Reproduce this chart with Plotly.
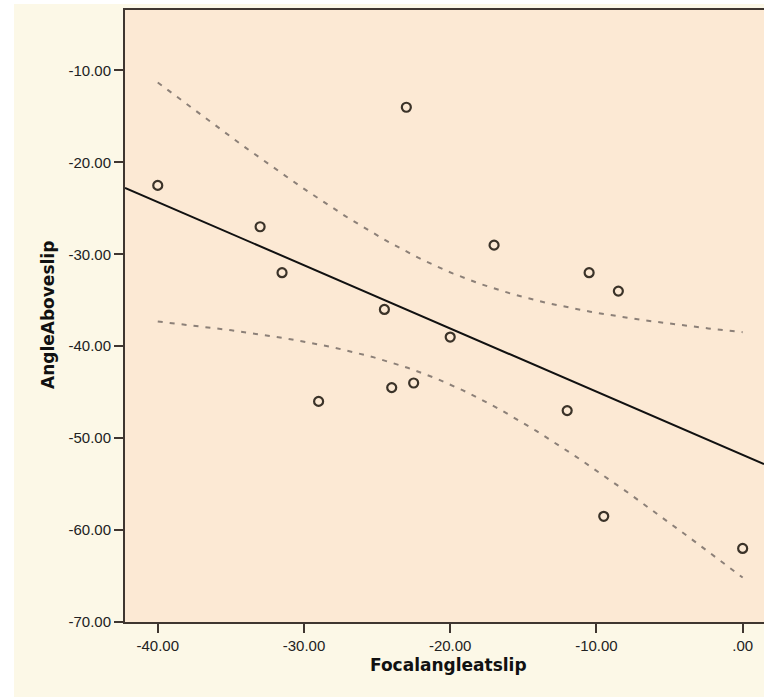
import numpy as np
import plotly.graph_objects as go

# Data
focal_angle = [-40.0, -33.0, -31.5, -23.0, -29.0, -24.5, -24.0, -22.5, -20.0, -17.0, -10.5, -8.5, -12.0, -9.5, 0.0]
angle_above = [-22.5, -27.0, -32.0, -14.0, -46.0, -36.0, -44.5, -44.0, -39.0, -29.0, -32.0, -34.0, -47.0, -58.5, -62.0]

x_tickvals = [-40, -30, -20, -10, 0]
x_ticktext = ["-40.00", "-30.00", "-20.00", "-10.00", ".00"]
y_tickvals = [-10, -20, -30, -40, -50, -60, -70]
y_ticktext = ["-10.00", "-20.00", "-30.00", "-40.00", "-50.00", "-60.00", "-70.00"]

x_range = [-42.24, 1.46]
y_range = [-70.0, -3.42]
t_crit = 2.160  # t(0.975, df=13)

x = np.array(focal_angle)
y = np.array(angle_above)
n = len(x)
slope, intercept = np.polyfit(x, y, 1)
resid = y - (slope * x + intercept)
s = np.sqrt(np.sum(resid ** 2) / (n - 2))
sxx = np.sum((x - x.mean()) ** 2)

xl = np.array(x_range)
yl = slope * xl + intercept

xc = np.linspace(x.min(), x.max(), 120)
yc = slope * xc + intercept
hw = t_crit * s * np.sqrt(1.0 / n + (xc - x.mean()) ** 2 / sxx)

axis_col = "#3f3630"
ci_col = "#8c8078"

fig = go.Figure()
fig.add_trace(go.Scatter(x=xc, y=yc + hw, mode="lines",
                         line=dict(color=ci_col, width=2, dash="5px,7px"), hoverinfo="skip"))
fig.add_trace(go.Scatter(x=xc, y=yc - hw, mode="lines",
                         line=dict(color=ci_col, width=2, dash="5px,7px"), hoverinfo="skip"))
fig.add_trace(go.Scatter(x=xl, y=yl, mode="lines", line=dict(color="#111111", width=2)))
fig.add_trace(go.Scatter(x=focal_angle, y=angle_above, mode="markers",
                         marker=dict(symbol="circle-open", size=9, color="#3b3329",
                                     line=dict(width=2.2, color="#3b3329"))))

W, H = 764, 697
ml, mr, mt, mb = 125, 0, 10, 75
pw, ph = W - ml - mr, H - mt - mb

def px(xp):
    return (xp - ml) / pw

def py(yp):
    return (H - mb - yp) / ph

fig.update_layout(
    width=W, height=H,
    margin=dict(l=ml, r=mr, t=mt, b=mb, pad=0),
    paper_bgcolor="#fcf8e7",
    plot_bgcolor="#fce9d4",
    showlegend=False,
    font=dict(family="Liberation Sans, Arial, sans-serif", size=15, color="#222222"),
    xaxis=dict(range=x_range, tickvals=x_tickvals, ticktext=x_ticktext,
               showgrid=False, zeroline=False, showline=True, mirror=True,
               linecolor=axis_col, linewidth=2, ticks="outside", ticklen=9,
               tickwidth=2, tickcolor=axis_col),
    yaxis=dict(range=y_range, tickvals=y_tickvals, ticktext=y_ticktext,
               showgrid=False, zeroline=False, showline=True,
               linecolor=axis_col, linewidth=2, ticks="outside", ticklen=9,
               tickwidth=2, tickcolor=axis_col),
    shapes=[
        dict(type="rect", xref="paper", yref="paper", x0=px(0), x1=px(14), y0=py(H), y1=py(0),
             fillcolor="white", line=dict(width=0), layer="below"),
        dict(type="rect", xref="paper", yref="paper", x0=px(0), x1=px(W), y0=py(4), y1=py(0),
             fillcolor="white", line=dict(width=0), layer="below"),
    ],
    annotations=[
        dict(text="<b>Focalangleatslip</b>", xref="paper", yref="paper",
             x=px(448), y=py(665), xanchor="center", yanchor="middle", showarrow=False,
             font=dict(family="DejaVu Sans, sans-serif", size=17, color="#111111")),
        dict(text="<b>AngleAboveslip</b>", xref="paper", yref="paper",
             x=px(48), y=py(315), xanchor="center", yanchor="middle", showarrow=False,
             textangle=-90,
             font=dict(family="DejaVu Sans, sans-serif", size=17, color="#111111")),
    ],
)

fig.write_html("out.html", config={"displayModeBar": False},
               post_script="document.body.style.margin='0px';")
